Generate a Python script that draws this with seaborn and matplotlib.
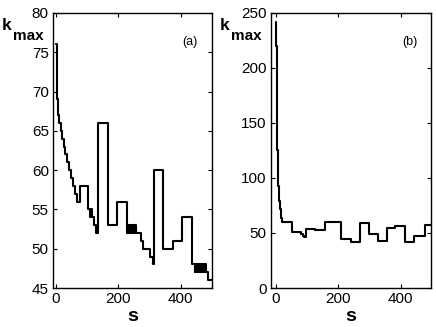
import numpy as np
import pandas as pd
import seaborn as sns
import matplotlib
matplotlib.use("Agg")
import matplotlib.pyplot as plt

# panel (a): step values of k_max against s
s_a = [1, 2, 3, 4, 5, 6, 10, 15, 19, 24, 30, 36, 42, 48, 54, 60, 68, 76, 103, 108, 113, 116, 120, 128, 135, 166, 196, 226,
       228, 230, 232, 234, 236, 238, 240, 242, 244, 246, 248, 250, 252, 254, 257,
       271, 278, 300, 306, 310, 314, 343, 375, 404, 436, 444,
       446, 448, 450, 452, 454, 456, 458, 460, 462, 464, 466, 468, 470, 472, 474, 476, 478, 480, 482,
       487, 500]
k_a = [76, 73, 71, 69, 68, 67, 66, 65, 64, 63, 62, 61, 60, 59, 58, 57, 56, 58, 55, 54, 55, 54, 53, 52, 66, 53, 56, 53,
       52, 53, 52, 53, 52, 53, 52, 53, 52, 53, 52, 53, 52, 53, 52,
       51, 50, 49, 49, 48, 60, 50, 51, 54, 48, 47,
       48, 47, 48, 47, 48, 47, 48, 47, 48, 47, 48, 47, 48, 47, 48, 47, 48, 47, 47,
       46, 46]

# panel (b)
s_b = [1, 2, 3, 4, 5, 6, 7, 8, 10, 12, 15, 18, 20, 52, 80, 88, 92, 97, 125, 157, 210, 242, 269, 298, 327, 356, 381, 413,
       442, 477, 500]
k_b = [242, 220, 185, 150, 125, 110, 100, 93, 85, 79, 72, 64, 60, 51, 49, 47, 46, 54, 53, 60, 45, 42, 59, 49, 43, 55, 56, 42,
       47, 57, 57]

sns.set_style("ticks")
plt.rcParams['font.family'] = ['Liberation Sans', 'DejaVu Sans']
plt.rcParams['xtick.direction'] = 'in'
plt.rcParams['ytick.direction'] = 'in'
plt.rcParams['xtick.top'] = True
plt.rcParams['ytick.right'] = True
for key in ['text.color', 'axes.labelcolor', 'xtick.color', 'ytick.color', 'axes.edgecolor']:
    plt.rcParams[key] = 'black'

fig = plt.figure(figsize=(4.36, 3.27), dpi=100)
ax1 = fig.add_axes([53/436, 39/327, 159/436, 275/327])
ax2 = fig.add_axes([271/436, 39/327, 160/436, 275/327])

df_a = pd.DataFrame({"s": s_a, "k": k_a})
df_b = pd.DataFrame({"s": s_b, "k": k_b})
sns.lineplot(data=df_a, x="s", y="k", ax=ax1, color="black", lw=1.5,
             estimator=None, sort=False, drawstyle="steps-post")
sns.lineplot(data=df_b, x="s", y="k", ax=ax2, color="black", lw=1.5,
             estimator=None, sort=False, drawstyle="steps-post")

ax1.set_xlim(-10, 500)
ax1.set_ylim(45, 80)
ax1.set_yticks(range(45, 81, 5))
ax2.set_xlim(-15, 497)
ax2.set_ylim(0, 250)
ax2.set_yticks(range(0, 251, 50))

for ax in (ax1, ax2):
    ax.set_xticks([0, 200, 400])
    ax.tick_params(labelsize=11, length=3, width=0.8, pad=3)
    ax.set_xlabel("s", fontsize=14, fontweight="bold", labelpad=1)
    ax.set_ylabel("")
    for sp in ax.spines.values():
        sp.set_linewidth(1.0)
        sp.set_color("black")

ax1.text(0.86, 0.895, "(a)", transform=ax1.transAxes, fontsize=9, ha="center", va="center")
ax2.text(0.87, 0.895, "(b)", transform=ax2.transAxes, fontsize=9, ha="center", va="center")

# y labels drawn as k with bold subscript
for x0 in (2, 220):
    fig.text(x0/436, 1 - 30/327, "k", fontsize=12.5, fontweight="bold", va="baseline")
    fig.text((x0 + 11)/436, 1 - 40/327, "max", fontsize=11, fontweight="bold", va="baseline")

fig.savefig("out.png", dpi=100)
